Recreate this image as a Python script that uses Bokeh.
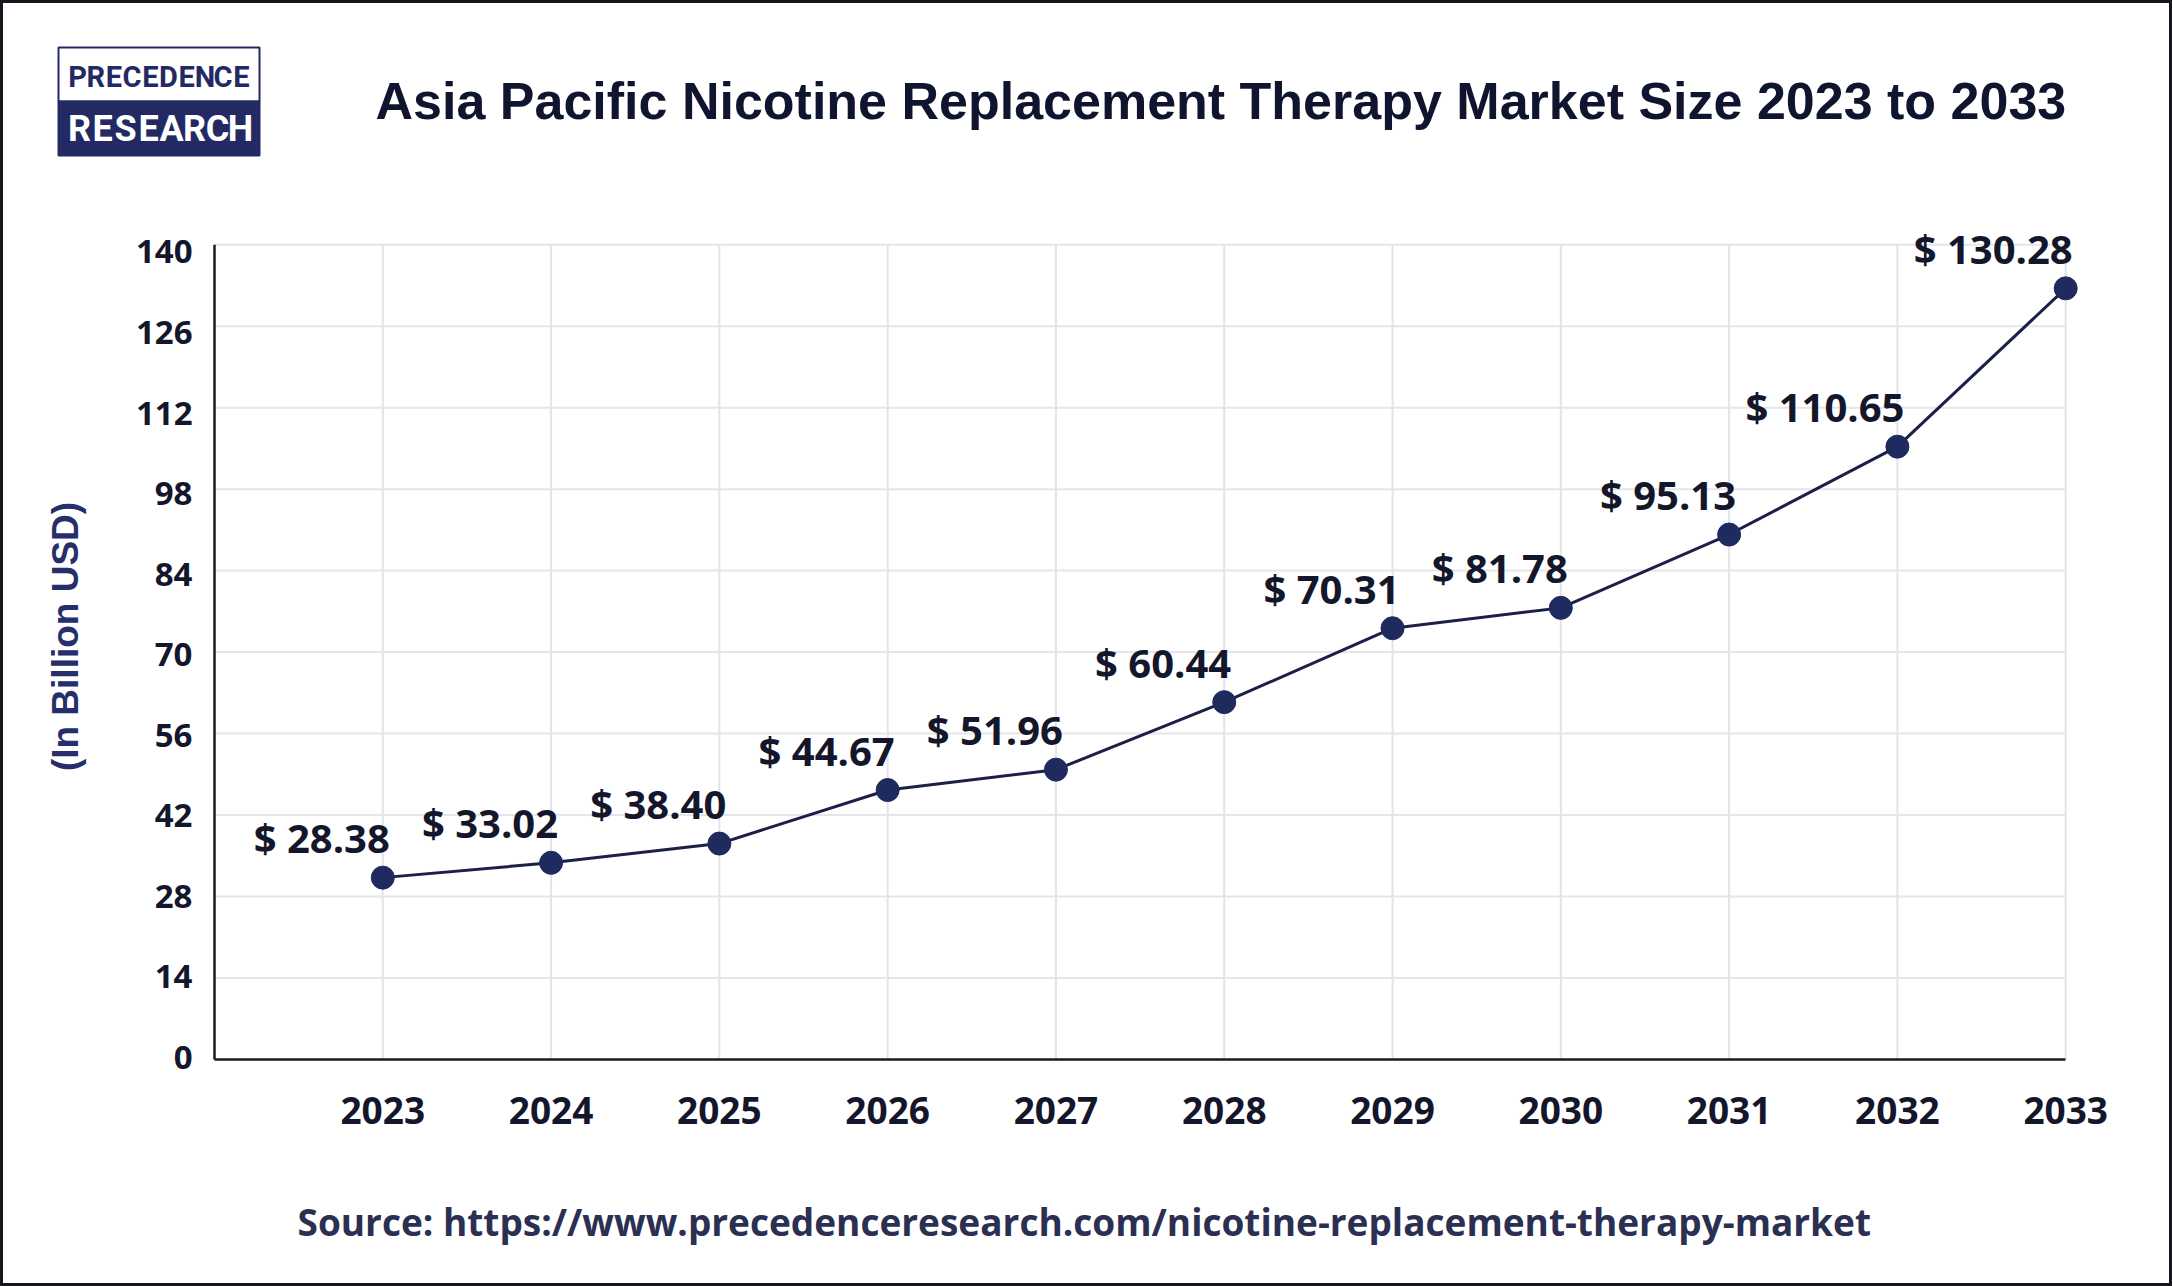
import numpy as np
from bokeh.plotting import figure
from bokeh.models import (ColumnDataSource, LabelSet, FixedTicker, Range1d, Spacer, LinearAxis)
from bokeh.layouts import column, row
from bokeh.core.properties import value
from bokeh.embed import file_html
from bokeh.resources import INLINE

# ---------------- data ----------------
years = [2023, 2024, 2025, 2026, 2027, 2028, 2029, 2030, 2031, 2032, 2033]
value_labels = ["$ 28.38", "$ 33.02", "$ 38.40", "$ 44.67", "$ 51.96", "$ 60.44",
                "$ 70.31", "$ 81.78", "$ 95.13", "$ 110.65", "$ 130.28"]
# heights at which the markers are drawn in the picture
plotted_values = [31.25, 33.8, 37.1, 46.3, 49.8, 61.4, 74.1, 77.6, 90.2, 105.3, 132.5]
y_ticks = [0, 14, 28, 42, 56, 70, 84, 98, 112, 126, 140]
x_tick_labels = [str(y) for y in years]

title_text = "Asia Pacific Nicotine Replacement Therapy Market Size 2023 to 2033"
y_axis_title = "(In Billion USD)"
source_text = "Source: https://www.precedenceresearch.com/nicotine-replacement-therapy-market"
logo_top = "PRECEDENCE"
logo_bottom = "RESEARCH"

# ---------------- layout constants (page px) ----------------
W, H = 2172, 1286
BW = 3                        # outer border width
IW, IH = W - 2 * BW, H - 2 * BW
FL, FB = 214, 1059            # page px of the axes' origin
XS = 168.29                   # px per year
YS = 5.82                     # px per billion (grid)
TY0, TYS = 1057, 5.754        # tick-label placement (slightly different in the original)

NAVY = "#1f2a5e"
LOGO = "#232a63"
DARK = "#14172b"
BORDER = "#16161c"

x0 = years[0] - 1
chart = figure(width=IW, height=IH, min_border=0,
               x_range=Range1d(x0 - (FL - BW) / XS, x0 + (W - BW - FL) / XS),
               y_range=Range1d(-(H - BW - FB) / YS, (FB - BW) / YS),
               x_axis_type=None, y_axis_type=None,
               output_backend="svg", toolbar_location=None,
               background_fill_color="white", border_fill_color="white")
chart.outline_line_color = None
chart.grid.visible = False
chart.extra_x_ranges = {"px": Range1d(BW, W - BW)}
chart.extra_y_ranges = {"px": Range1d(H - BW, BW),
                        "ticks": Range1d(-(H - BW - TY0) / TYS, (TY0 - BW) / TYS)}

# ---------------- grid ----------------
n_h = len(y_ticks) - 1
chart.segment(x0=[x0] * n_h, y0=y_ticks[1:], x1=[years[-1]] * n_h, y1=y_ticks[1:],
              line_color="#e6e6ea", line_width=2)
chart.segment(x0=years, y0=[y_ticks[0]] * len(years), x1=years, y1=[y_ticks[-1]] * len(years),
              line_color="#e3e3e8", line_width=2)
# y axis line
chart.segment(x0=[x0], y0=[y_ticks[0]], x1=[x0], y1=[y_ticks[-1]],
              line_color="#1b1b1b", line_width=2.5)

# ---------------- axes ----------------
xaxis = LinearAxis(fixed_location=y_ticks[0], ticker=FixedTicker(ticks=years),
                   bounds=(x0, years[-1]))
xaxis.major_label_overrides = {y: t for y, t in zip(years, x_tick_labels)}
xaxis.major_label_text_font_size = "37px"
xaxis.major_label_standoff = 37
xaxis.axis_line_color = "#1b1b1b"
xaxis.axis_line_width = 2.5
yaxis = LinearAxis(fixed_location=x0, ticker=FixedTicker(ticks=y_ticks),
                   bounds=(y_ticks[0], y_ticks[-1]), y_range_name="ticks")
yaxis.major_label_text_font_size = "33px"
yaxis.major_label_standoff = 22
yaxis.axis_line_color = None
for ax in (xaxis, yaxis):
    ax.major_tick_line_color = None
    ax.minor_tick_line_color = None
    ax.major_tick_in = 0
    ax.major_tick_out = 0
    ax.minor_tick_in = 0
    ax.minor_tick_out = 0
    ax.major_label_text_font = "Open Sans"
    ax.major_label_text_font_style = "bold"
    ax.major_label_text_color = DARK
chart.add_layout(xaxis, "below")
chart.add_layout(yaxis, "left")

# ---------------- series ----------------
src = ColumnDataSource(dict(x=years, y=plotted_values, label=value_labels))
chart.line("x", "y", source=src, line_color="#1c1f48", line_width=3)
chart.scatter("x", "y", source=src, size=23, fill_color=NAVY, line_color=NAVY)
chart.add_layout(LabelSet(x="x", y="y", text="label", source=src,
                          x_offset=7, y_offset=40,
                          text_align="right", text_baseline="middle",
                          text_font=value("Open Sans"), text_font_style="bold",
                          text_font_size="40px", text_color=DARK))

# ---------------- decoration in page px ----------------
px = dict(x_range_name="px", y_range_name="px")
chart.text(x=[65], y=[636], text=[y_axis_title], angle=np.pi / 2,
           text_align="center", text_baseline="middle",
           text_font=value("Liberation Sans"), text_font_style="bold",
           text_font_size="37px", text_color="#262f6b", **px)

chart.quad(left=[58], right=[259], top=[47], bottom=[101],
           fill_color="white", line_color=LOGO, line_width=2, **px)
chart.quad(left=[58], right=[259], top=[101], bottom=[155],
           fill_color=LOGO, line_color=LOGO, line_width=2, **px)
chart.text(x=[77 + i * 18.2 for i in range(len(logo_top))], y=[76] * len(logo_top),
           text=list(logo_top), text_align="center", text_baseline="middle",
           text_font=value("Roboto"), text_font_style="bold",
           text_font_size="29px", text_color=LOGO, **px)
chart.text(x=[79 + i * 23.0 for i in range(len(logo_bottom))], y=[128] * len(logo_bottom),
           text=list(logo_bottom), text_align="center", text_baseline="middle",
           text_font=value("Roboto"), text_font_style="bold",
           text_font_size="36px", text_color="white", **px)

chart.text(x=[375], y=[100], text=[title_text], text_align="left",
           text_baseline="alphabetic", text_font=value("Liberation Sans"),
           text_font_style="bold", text_font_size="52px", text_color="#10152f", **px)

chart.text(x=[297], y=[1221], text=[source_text], text_align="left",
           text_baseline="alphabetic", text_font=value("Open Sans"),
           text_font_style="bold", text_font_size="37px", text_color="#2b3052", **px)

# ---------------- assemble with outer border ----------------
edge = {"background-color": BORDER}
p = column(
    Spacer(width=W, height=BW, styles=edge),
    row(Spacer(width=BW, height=IH, styles=edge),
        chart,
        Spacer(width=BW, height=IH, styles=edge), spacing=0),
    Spacer(width=W, height=BW, styles=edge),
    spacing=0)

open("out.html", "w").write(file_html(p, INLINE))
